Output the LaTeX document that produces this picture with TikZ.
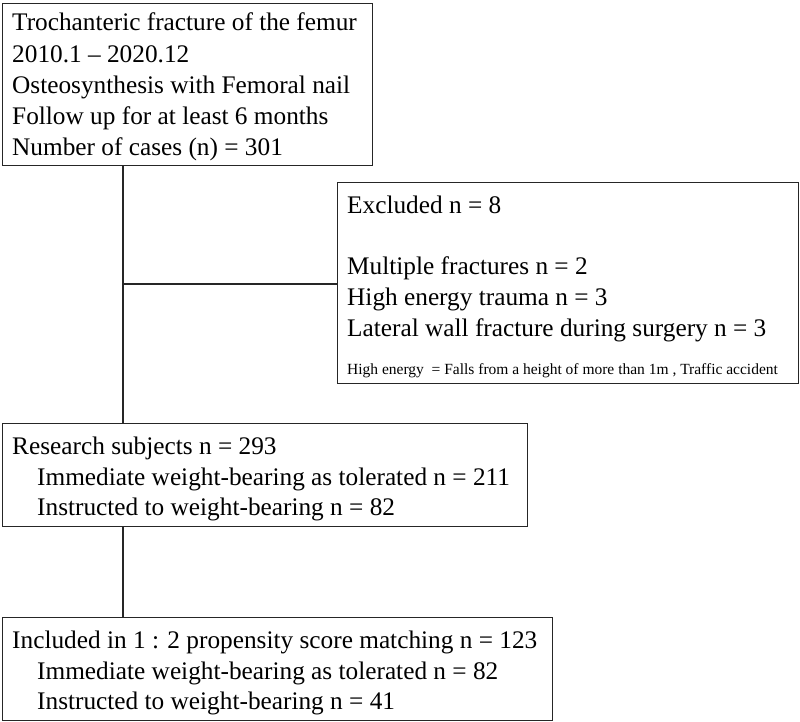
\documentclass[tikz,border=0pt]{standalone}
\usepackage{fontspec}
\setmainfont{Liberation Serif}
\begin{document}
\begin{tikzpicture}[x=1pt,y=-1pt,
  box/.style={draw=black!85, line width=1.3pt, rectangle, inner sep=0pt, anchor=north west},
  txt/.style={anchor=base west, inner sep=0pt, font=\fontsize{25.3}{29}\selectfont},
  small/.style={anchor=base west, inner sep=0pt, font=\fontsize{15.5}{17}\selectfont},
  conn/.style={draw=black!85, line width=1.3pt}]
\path[use as bounding box] (0,0) rectangle (800,722);
% boxes
\node[box, minimum width=370pt, minimum height=162pt] (b1) at (2,3) {};
\node[box, minimum width=461pt, minimum height=201pt] (b2) at (337,182) {};
\node[box, minimum width=525pt, minimum height=103pt] (b3) at (2,423) {};
\node[box, minimum width=550pt, minimum height=103pt] (b4) at (2,617) {};
% box 1 text
\node[txt] (t1a) at (12,31) {Trochanteric fracture of the femur};
\node[txt] (t1b) at (12,63) {2010.1 – 2020.12};
\node[txt] (t1c) at (12,94) {Osteosynthesis with Femoral nail};
\node[txt] (t1d) at (12,125) {Follow up for at least 6 months};
\node[txt] (t1e) at (12,156) {Number of cases (n) = 301};
% box 2 text
\node[txt] (t2a) at (347,214) {Excluded n = 8};
\node[txt] (t2b) at (347,274) {Multiple fractures n = 2};
\node[txt] (t2c) at (347,305) {High energy trauma n = 3};
\node[txt] (t2d) at (347,336) {Lateral wall fracture during surgery n = 3};
\node[small] (t2e) at (347,374) {High energy \ = Falls from a height of more than 1m , Traffic accident};
% box 3 text
\node[txt] (t3a) at (12,454) {Research subjects n = 293};
\node[txt] (t3b) at (37,485) {Immediate weight-bearing as tolerated n = 211};
\node[txt] (t3c) at (37,515) {Instructed to weight-bearing n = 82};
% box 4 text
\node[txt] (t4a) at (12,648) {Included in 1 : 2 propensity score matching n = 123};
\node[txt] (t4b) at (37,679) {Immediate weight-bearing as tolerated n = 82};
\node[txt] (t4c) at (37,709) {Instructed to weight-bearing n = 41};
% connectors
\coordinate (j1) at (123,284);
\draw[conn] (b1.south -| j1) -- (b3.north -| j1);
\draw[conn] (j1) -- (j1 -| b2.west);
\draw[conn] (b3.south -| j1) -- (b4.north -| j1);
\end{tikzpicture}
\end{document}
